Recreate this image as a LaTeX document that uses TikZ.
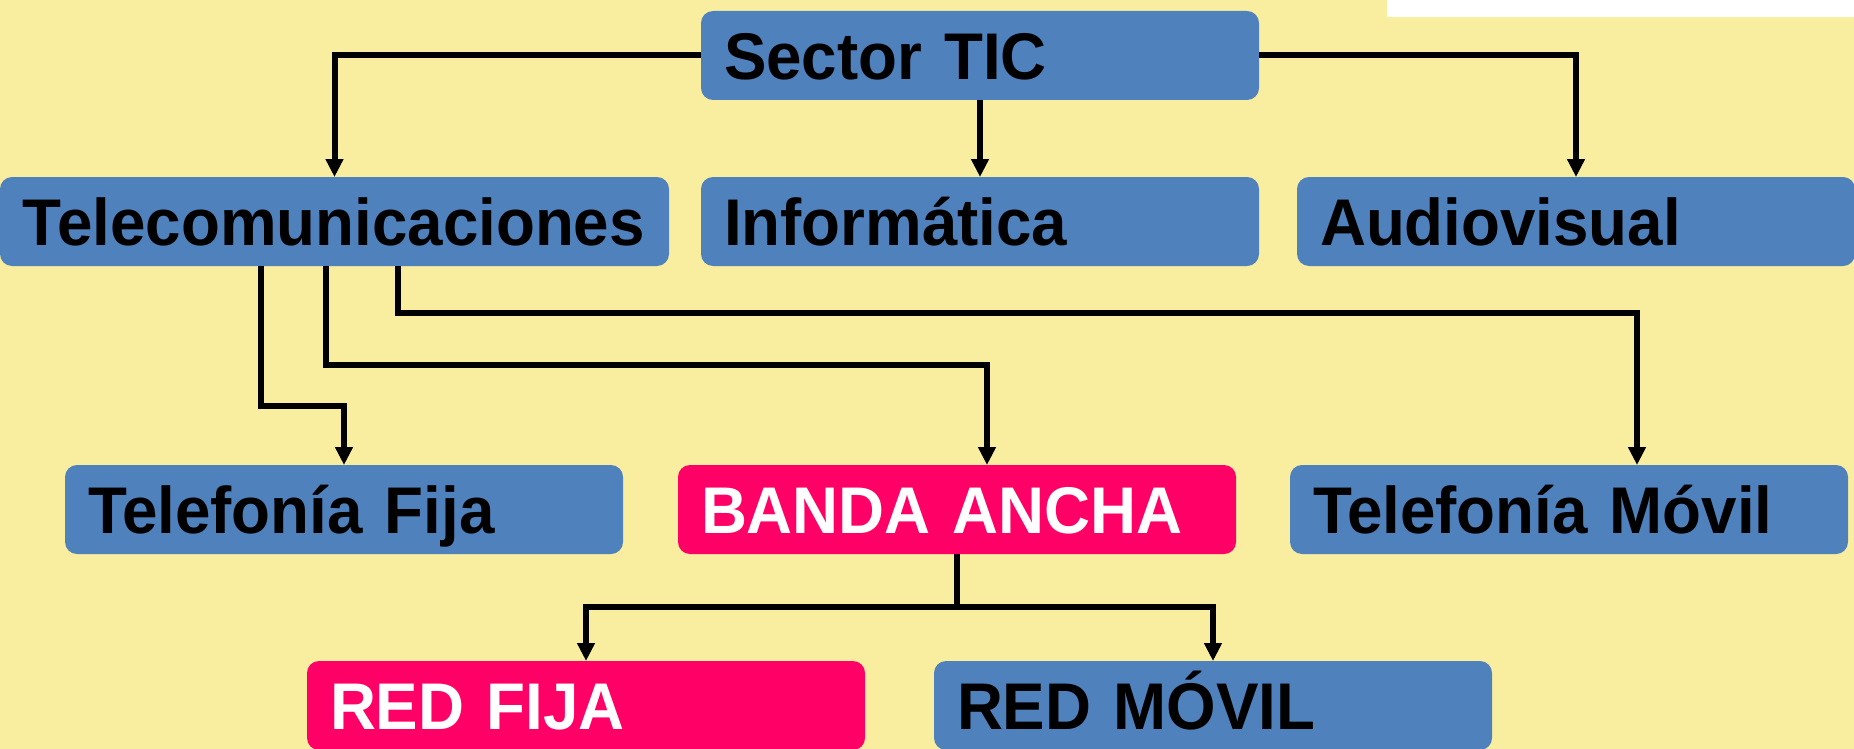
\documentclass[tikz,border=0pt]{standalone}
\usepackage{fontspec}
\setmainfont{Liberation Sans}[FakeStretch=0.965]
\usetikzlibrary{arrows.meta}
\definecolor{fondo}{HTML}{F9EEA0}
\definecolor{azul}{HTML}{4F81BD}
\definecolor{rosa}{HTML}{FF0066}

\begin{document}
\begin{tikzpicture}[x=1pt,y=-1pt]
\tikzset{cajaazul/.style={fill=azul, rounded corners=12pt, anchor=north west, minimum height=89pt, text width=512pt, align=left, inner xsep=23pt, inner ysep=0pt, outer sep=0pt, text height=47.3pt, text depth=0pt, font=\fontsize{66}{70}\selectfont\bfseries}}
\tikzset{cajarosa/.style={cajaazul, fill=rosa, text=white}}
\tikzset{linea/.style={line width=6pt}}
\tikzset{flecha/.style={linea, -{Triangle[length=18pt,width=17pt]}}}
\fill[fondo] (0,0) rectangle (1854,749);
\fill[white] (1387,0) rectangle (1854,17);
\useasboundingbox (0,0) rectangle (1854,749);
\node[cajaazul] (tic) at (701,11) {Sector TIC};
\node[cajaazul, text width=623pt] (telecom) at (0,177) {Telecomunicaciones};
\node[cajaazul] (info) at (701,177) {Informática};
\node[cajaazul] (audio) at (1297,177) {Audiovisual};
\node[cajaazul] (fija) at (65,465) {Telefonía Fija};
\node[cajarosa] (banda) at (678,465) {BANDA ANCHA};
\node[cajaazul] (movil) at (1290,465) {Telefonía Móvil};
\node[cajarosa] (redfija) at (307,661) {RED FIJA};
\node[cajaazul] (redmovil) at (934,661) {RED MÓVIL};
\coordinate (c1) at (261,406);
\coordinate (c2) at (326,365);
\coordinate (c3) at (398,313);
\coordinate (c4) at (957,607);
\draw[flecha] (tic.west) -| (telecom.north);
\draw[flecha] (tic) -- (info);
\draw[flecha] (tic.east) -| (audio.north);
\draw[flecha] (telecom.south -| c1) -- (c1) -| (fija.north);
\draw[flecha] (telecom.south -| c2) -- (c2) -| ([xshift=30pt]banda.north);
\draw[flecha] (telecom.south -| c3) -- (c3) -| ([xshift=68pt]movil.north);
\draw[linea] (banda.south) -- (c4);
\draw[flecha] (c4) -| (redfija.north);
\draw[flecha] (c4) -| (redmovil.north);
\end{tikzpicture}
\end{document}
